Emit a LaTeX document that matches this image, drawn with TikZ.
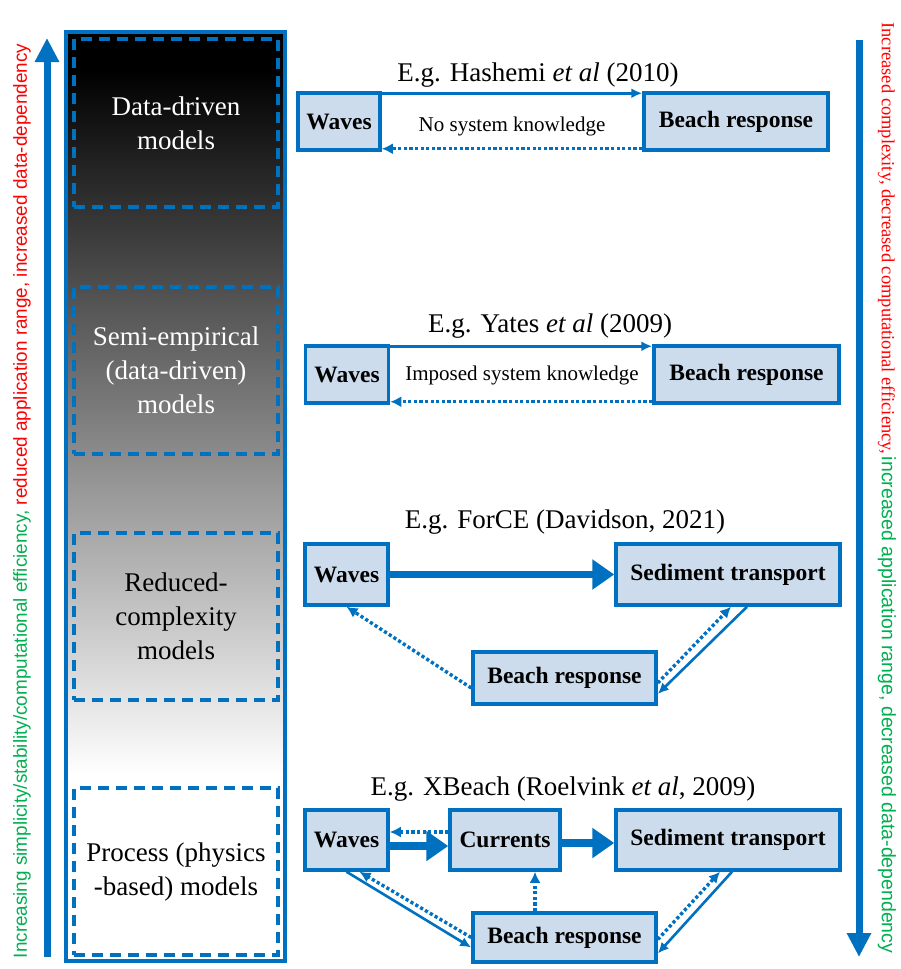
\documentclass[tikz,border=0pt]{standalone}
\usepackage{fontspec}
\setmainfont{Liberation Serif}
\setsansfont{Liberation Sans}
\usetikzlibrary{arrows.meta}
\definecolor{ppblue}{RGB}{0,112,192}
\definecolor{ppfill}{RGB}{205,220,236}
\definecolor{ppgreen}{RGB}{0,176,80}
\definecolor{ppred}{RGB}{255,0,0}
\pgfdeclareverticalshading{ppgrad}{100bp}{color(0bp)=(white); color(35bp)=(white); color(73bp)=(black); color(100bp)=(black)}

\begin{document}
\begin{tikzpicture}[x=1pt,y=-1pt,
  modelbox/.style={draw=ppblue,line width=3.5pt,dash pattern=on 11pt off 7pt,minimum width=204pt,align=center,font=\fontsize{27}{34}\selectfont},
  procbox/.style={draw=ppblue,fill=ppfill,line width=3.5pt,font=\bfseries\fontsize{23.5}{26}\selectfont,minimum height=57pt},
  egtitle/.style={font=\fontsize{27}{32}\selectfont},
  knownote/.style={font=\fontsize{21}{25}\selectfont},
  feed/.style={draw=ppblue,line width=2.6pt,-{Latex[length=11pt,width=10pt]}},
  backflow/.style={draw=ppblue,line width=3.4pt,dash pattern=on 3.2pt off 2.4pt,-{Latex[length=11pt,width=11pt]}},
  mainflow/.style={draw=ppblue,line width=7.5pt,-{Triangle[length=22pt,width=29pt]}},
  sidearrow/.style={draw=ppblue,line width=7pt,-{Triangle[length=24pt,width=23pt]}}]
\useasboundingbox (0,0) rectangle (900,969);

% model column
\node[draw=ppblue,line width=3.5pt,shade,shading=ppgrad,minimum width=219pt,minimum height=929pt] (column) at (175.5,496.5) {};
\node[modelbox,minimum height=168pt,text=white] (datadriven) at (176,123) {Data-driven\\models};
\node[modelbox,minimum height=167pt,text=white] (semiemp) at (176,370.5) {Semi-empirical\\(data-driven)\\models};
\node[modelbox,minimum height=167pt] (reduced) at (176,616.5) {Reduced-\\complexity\\models};
\node[modelbox,minimum height=167pt] (process) at (176,871.5) {Process (physics\\-based) models};

% side arrows
\coordinate (lbot) at (47,957);
\coordinate (ltop) at (47,38);
\draw[sidearrow] (lbot) -- (ltop);
\node[rotate=90,font=\sffamily\fontsize{18.9}{22}\selectfont] (lefttext) at (22,501)
  {\textcolor{ppgreen}{Increasing simplicity/stability/computational efficiency,} \textcolor{ppred}{reduced application range, increased data-dependency}};
\coordinate (rtop) at (859,40);
\coordinate (rbot) at (859,957);
\draw[sidearrow] (rtop) -- (rbot);
\node[rotate=-90] (righttext) at (887,488)
  {\textcolor{ppred}{\fontsize{18.5}{22}\selectfont Increased complexity, decreased computational efficiency,} \textcolor{ppgreen}{\sffamily\fontsize{19.5}{22}\selectfont increased application range, decreased data-dependency}};

% data-driven
\node[egtitle] (t1) at (538,75) {E.g. Hashemi \textit{et al} (2010)};
\node[procbox,minimum width=82pt] (w1) at (339,121.5) {Waves};
\node[procbox,minimum width=184pt] (b1) at (736,121.5) {Beach response};
\node[knownote] (k1) at (512,126) {No system knowledge};
\draw[feed] ([yshift=-2pt]w1.north east) -- ([yshift=-2pt]b1.north west);
\draw[backflow] ([yshift=3pt]b1.south west) -- ([yshift=3pt]w1.south east);

% semi-empirical
\node[egtitle] (t2) at (550,326) {E.g. Yates \textit{et al} (2009)};
\node[procbox,minimum width=83pt] (w2) at (347,374.5) {Waves};
\node[procbox,minimum width=185pt] (b2) at (746.5,374.5) {Beach response};
\node[knownote] (k2) at (522,375) {Imposed system knowledge};
\draw[feed] ([yshift=-2pt]w2.north east) -- ([yshift=-2pt]b2.north west);
\draw[backflow] ([yshift=3pt]b2.south west) -- ([yshift=3pt]w2.south east);

% reduced-complexity
\node[egtitle] (t3) at (565,522) {E.g. ForCE (Davidson, 2021)};
\node[procbox,minimum width=83pt,minimum height=61pt] (w3) at (346.5,574.5) {Waves};
\node[procbox,minimum width=224pt,minimum height=61pt] (s3) at (728,574.5) {Sediment transport};
\node[procbox,minimum width=183pt,minimum height=52pt] (b3) at (564.5,678) {Beach response};
\draw[mainflow] (w3.east) -- (s3.west);
\draw[backflow] ([yshift=-10pt]b3.west) -- (w3.south);
\draw[feed] ([xshift=19pt]s3.south) -- ([yshift=-16pt]b3.east);
\draw[backflow] ([yshift=-5pt]b3.east) -- ([xshift=3pt]s3.south);

% process-based
\node[egtitle] (t4) at (563,789) {E.g. XBeach (Roelvink \textit{et al}, 2009)};
\node[procbox,minimum width=83pt,minimum height=60pt] (w4) at (346.5,840) {Waves};
\node[procbox,minimum width=110pt,minimum height=60pt] (c4) at (505,840) {Currents};
\node[procbox,minimum width=224pt,minimum height=60pt] (s4) at (728,840) {Sediment transport};
\node[procbox,minimum width=183pt,minimum height=49pt] (b4) at (564.5,937.5) {Beach response};
\draw[backflow] ([yshift=8pt]c4.west) -- ([yshift=8pt]w4.east);
\draw[mainflow] ([yshift=-6pt]w4.east) -- ([yshift=-6pt]c4.west);
\draw[mainflow] ([yshift=-3pt]c4.east) -- ([yshift=-3pt]s4.west);
\draw[backflow] ([xshift=30pt]c4.south |- b4.north) -- ([xshift=30pt]c4.south);
\draw[feed] (w4.south) -- ([yshift=-10pt]b4.west);
\draw[backflow] (b4.west) -- ([xshift=13pt]w4.south);
\draw[feed] ([xshift=4pt]s4.south) -- ([yshift=-16pt]b4.east);
\draw[backflow] ([yshift=-2pt]b4.east) -- ([xshift=-8pt]s4.south);
\end{tikzpicture}
\end{document}
